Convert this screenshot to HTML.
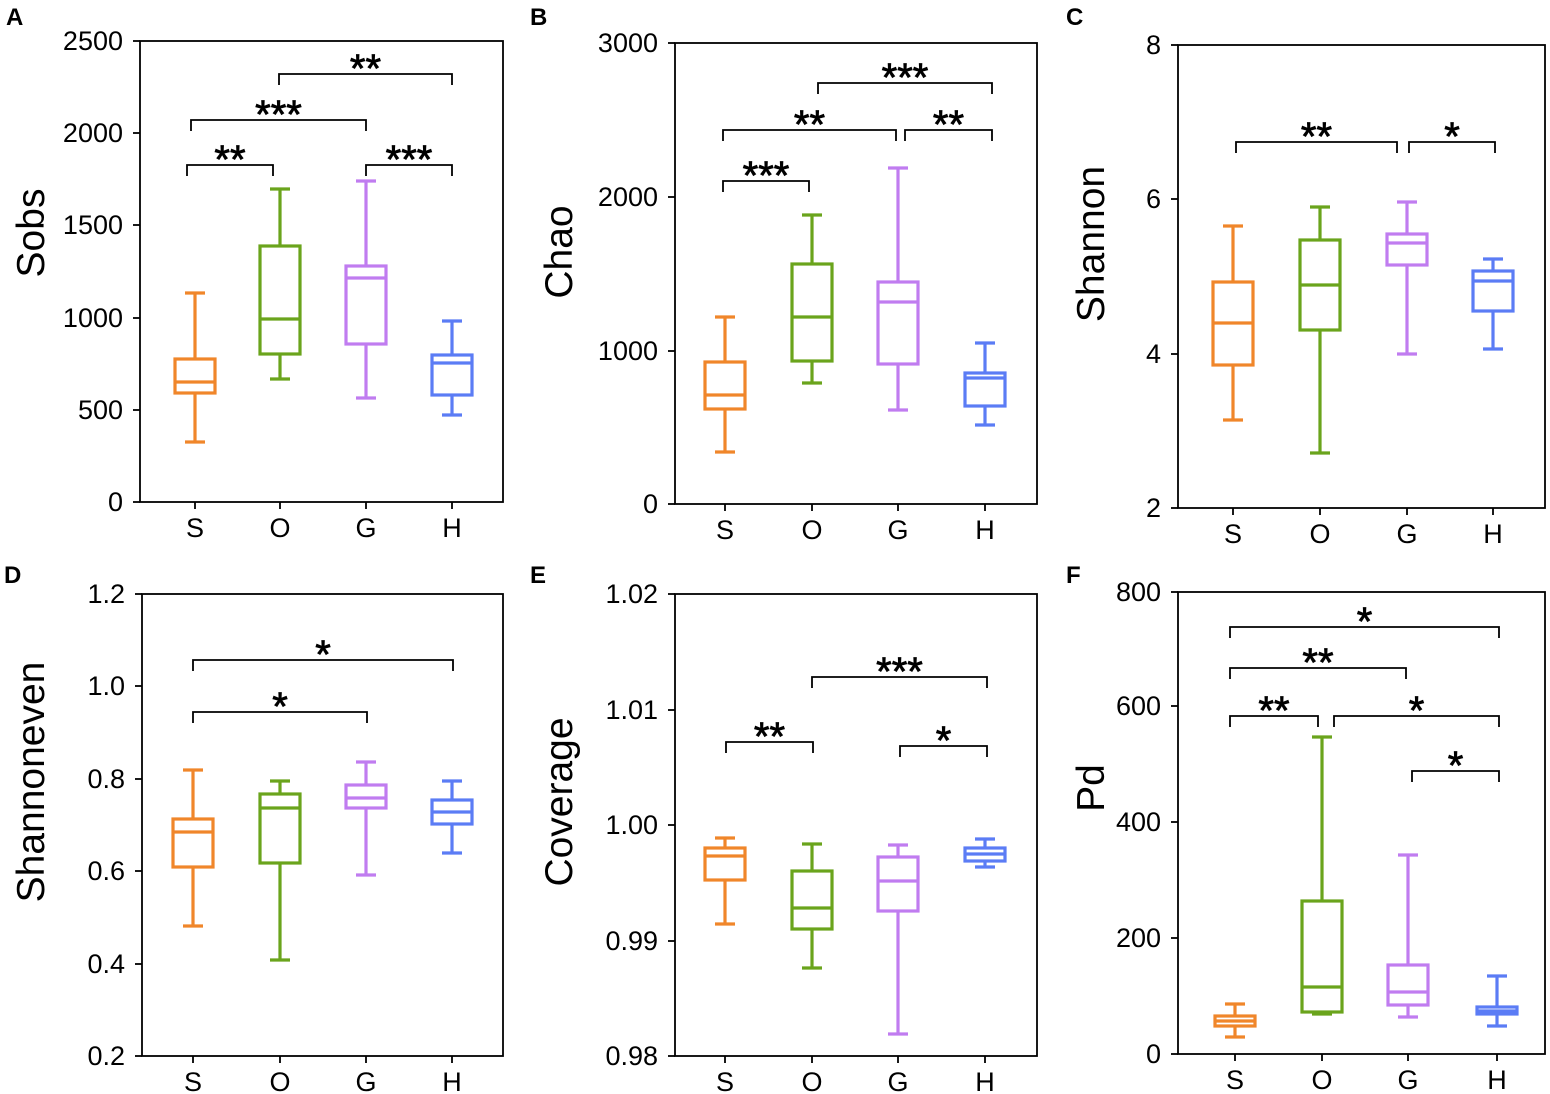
<!DOCTYPE html>
<html><head><meta charset="utf-8">
<style>body{margin:0;background:#fff}svg{display:block;font-family:"Liberation Sans",Arial,sans-serif}</style>
</head><body>
<svg id="s" width="1550" height="1094" xmlns="http://www.w3.org/2000/svg"></svg>
<script>
const C=['#f0862a','#6aa41c','#c07cf0','#5b7cf5'];
const P=[
{L:'A',lx:6,ly:25,x0:140,x1:503,y0:41,y1:502,ticks:[['2500',41],['2000',133],['1500',225],['1000',318],['500',410],['0',502]],lab:'Sobs',labx:32,cy:233,cats:[195,280,366,452],
 box:[[442,293,393,359,382],[379,189,354,246,319],[398,181,344,266,278],[415,321,395,355,363]],
 br:[[187,273,165,'**'],[191,366,120,'***'],[279,452,74,'**'],[366,452,165,'***']]},
{L:'B',lx:530,ly:25,x0:675,x1:1037,y0:43,y1:504,ticks:[['3000',43],['2000',197],['1000',351],['0',504]],lab:'Chao',labx:560,cy:252,cats:[725,812,898,985],
 box:[[452,317,409,362,395],[383,215,361,264,317],[410,168,364,282,302],[425,343,406,373,378]],
 br:[[723,809,181,'***'],[723,896,130,'**'],[818,992,83,'***'],[905,992,130,'**']]},
{L:'C',lx:1066,ly:25,x0:1178,x1:1545,y0:45,y1:508,ticks:[['8',45],['6',199],['4',354],['2',508]],lab:'Shannon',labx:1092,cy:244,cats:[1233,1320,1407,1493],
 box:[[420,226,365,282,323],[453,207,330,240,285],[354,202,265,234,243],[349,259,311,271,281]],
 br:[[1236,1397,142,'**'],[1409,1495,142,'*']]},
{L:'D',lx:4,ly:583,x0:142,x1:503,y0:594,y1:1056,ticks:[['1.2',594],['1.0',686],['0.8',779],['0.6',871],['0.4',964],['0.2',1056]],lab:'Shannoneven',labx:32,cy:782,cats:[193,280,366,452],
 box:[[926,770,867,819,832],[960,781,863,794,808],[875,762,808,785,798],[853,781,824,800,812]],
 br:[[193,367,712,'*'],[193,453,660,'*']]},
{L:'E',lx:530,ly:583,x0:675,x1:1037,y0:594,y1:1056,ticks:[['1.02',594],['1.01',710],['1.00',825],['0.99',941],['0.98',1056]],lab:'Coverage',labx:560,cy:802,cats:[725,812,898,985],
 box:[[924,838,880,848,856],[968,844,929,871,908],[1034,845,911,857,881],[867,839,861,848,854]],
 br:[[726,813,742,'**'],[812,987,677,'***'],[900,987,746,'*']]},
{L:'F',lx:1066,ly:583,x0:1178,x1:1545,y0:592,y1:1054,ticks:[['800',592],['600',706],['400',822],['200',938],['0',1054]],lab:'Pd',labx:1092,cy:788,cats:[1235,1322,1408,1497],
 box:[[1037,1004,1026,1016,1021],[1014,737,1012,901,987],[1017,855,1005,965,992],[1026,976,1014,1007,1011]],
 br:[[1230,1499,627,'*'],[1230,1406,668,'**'],[1230,1318,716,'**'],[1334,1499,716,'*'],[1412,1499,771,'*']]}
];
let h='';
for(const p of P){
 h+=`<text x="${p.lx}" y="${p.ly}" font-size="24" font-weight="bold">${p.L}</text>`;
 h+=`<rect x="${p.x0}" y="${p.y0}" width="${p.x1-p.x0}" height="${p.y1-p.y0}" fill="none" stroke="#000" stroke-width="1.8"/>`;
 for(const [t,y] of p.ticks){h+=`<line x1="${p.x0-7}" x2="${p.x0}" y1="${y}" y2="${y}" stroke="#000" stroke-width="1.8"/><text x="${p.x0-17}" y="${y+9}" font-size="27" text-anchor="end">${t}</text>`;}
 h+=`<text transform="translate(${p.labx+12},${p.cy}) rotate(-90)" font-size="39" text-anchor="middle">${p.lab}</text>`;
 ['S','O','G','H'].forEach((c,i)=>{const x=p.cats[i];
  h+=`<line x1="${x}" x2="${x}" y1="${p.y1}" y2="${p.y1+7}" stroke="#000" stroke-width="1.8"/><text x="${x}" y="${p.y1+35}" font-size="27" text-anchor="middle">${c}</text>`;
  const [lo,hi,q1,q3,m]=p.box[i],col=C[i],w=20;
  h+=`<g stroke="${col}" stroke-width="3.2" fill="none"><line x1="${x}" x2="${x}" y1="${lo}" y2="${q1}"/><line x1="${x}" x2="${x}" y1="${hi}" y2="${q3}"/><line x1="${x-10}" x2="${x+10}" y1="${lo}" y2="${lo}"/><line x1="${x-10}" x2="${x+10}" y1="${hi}" y2="${hi}"/><rect x="${x-w}" y="${q3}" width="${2*w}" height="${q1-q3}"/><line x1="${x-w}" x2="${x+w}" y1="${m}" y2="${m}"/></g>`;
 });
 for(const [a,b,y,s] of p.br){
  h+=`<polyline points="${a},${y+11} ${a},${y} ${b},${y} ${b},${y+11}" fill="none" stroke="#000" stroke-width="1.8"/><text x="${(a+b)/2}" y="${y+8}" font-size="40" text-anchor="middle" stroke="#000" stroke-width="0.8">${s}</text>`;
 }
}
document.getElementById('s').innerHTML=h;
</script>
</body></html>
